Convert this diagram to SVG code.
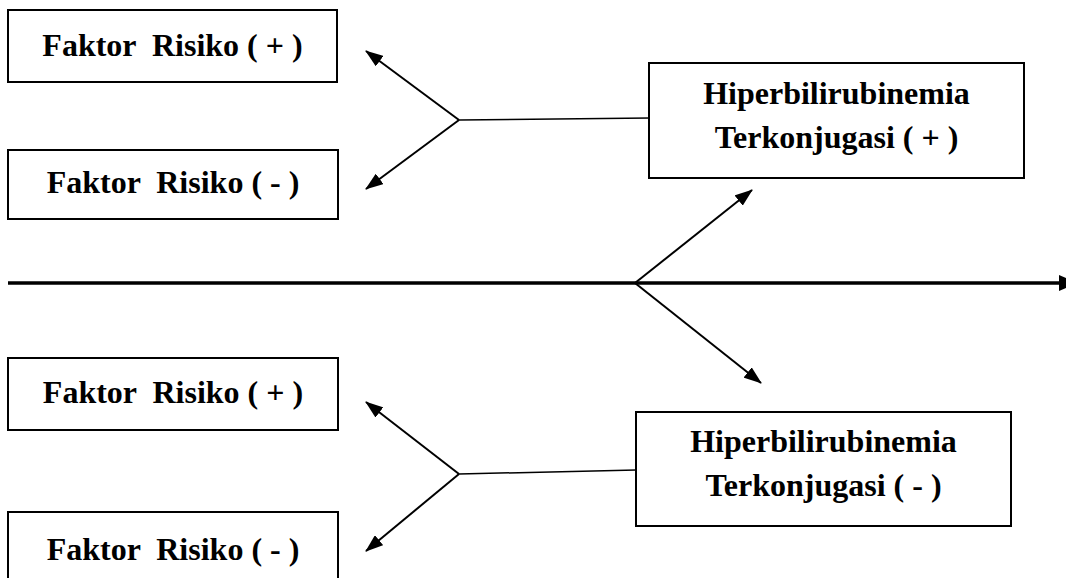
<svg xmlns="http://www.w3.org/2000/svg" width="1066" height="578" viewBox="0 0 1066 578">
<style>
.box{fill:#fff;stroke:#000;stroke-width:2}
.t{font-family:"Liberation Serif","Times New Roman",serif;font-weight:bold;font-size:32px;fill:#000;text-anchor:middle;white-space:pre}
.br{fill:none;stroke:#000;stroke-width:2}
.ln{fill:none;stroke:#000;stroke-width:1.5}
.main{fill:none;stroke:#000;stroke-width:3.5}
</style>
<defs>
<marker id="ah" viewBox="0 0 18 13" refX="17" refY="6.5" markerWidth="18" markerHeight="13" markerUnits="userSpaceOnUse" orient="auto">
<path d="M0,0 L18,6.5 L0,13 z" fill="#000"/>
</marker>
<marker id="ahm" viewBox="0 0 18 16" refX="17" refY="8" markerWidth="18" markerHeight="16" markerUnits="userSpaceOnUse" orient="auto">
<path d="M0,0 L18,8 L0,16 z" fill="#000"/>
</marker>
</defs>
<rect width="1066" height="578" fill="#fff"/>
<g id="connectors">
<line class="main" x1="8" y1="283" x2="1076" y2="283" marker-end="url(#ahm)"/>
<line class="br" x1="635" y1="283" x2="752" y2="190" marker-end="url(#ah)"/>
<line class="br" x1="635" y1="283" x2="761" y2="383" marker-end="url(#ah)"/>
<line class="ln" x1="459" y1="120" x2="650" y2="118"/>
<line class="br" x1="459" y1="120" x2="366" y2="51" marker-end="url(#ah)"/>
<line class="br" x1="459" y1="120" x2="366" y2="189" marker-end="url(#ah)"/>
<line class="ln" x1="459" y1="474" x2="636" y2="470"/>
<line class="br" x1="459" y1="474" x2="366" y2="402" marker-end="url(#ah)"/>
<line class="br" x1="459" y1="474" x2="366" y2="551" marker-end="url(#ah)"/>
</g>
<g id="fr1"><rect class="box" x="8" y="10" width="329" height="72"/><text class="t" x="172.5" y="56" xml:space="preserve">Faktor  Risiko ( + )</text></g>
<g id="fr2"><rect class="box" x="8" y="150" width="330" height="69"/><text class="t" x="173" y="193" xml:space="preserve">Faktor  Risiko ( - )</text></g>
<g id="hb1"><rect class="box" x="649" y="63" width="375" height="115"/><text class="t" x="836.5" y="104">Hiperbilirubinemia</text><text class="t" x="836.5" y="148">Terkonjugasi ( + )</text></g>
<g id="fr3"><rect class="box" x="8" y="358" width="330" height="72"/><text class="t" x="173" y="403" xml:space="preserve">Faktor  Risiko ( + )</text></g>
<g id="hb2"><rect class="box" x="636" y="412" width="375" height="114"/><text class="t" x="823.5" y="452">Hiperbilirubinemia</text><text class="t" x="823.5" y="496">Terkonjugasi ( - )</text></g>
<g id="fr4"><rect class="box" x="8" y="512" width="330" height="80"/><text class="t" x="173" y="560" xml:space="preserve">Faktor  Risiko ( - )</text></g>
</svg>
